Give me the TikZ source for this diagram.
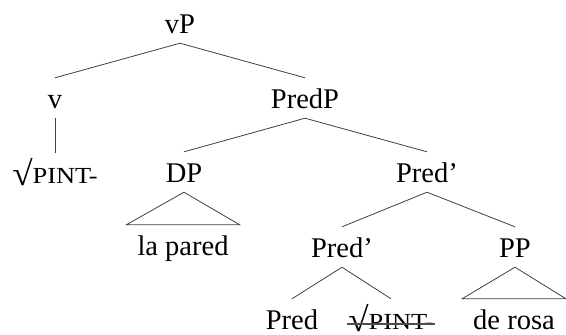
\documentclass[tikz,border=0pt]{standalone}
\usepackage{fontspec}
\setmainfont{Liberation Serif}
\newcommand{\rootpint}{\raisebox{-2pt}{\scalebox{1.3}[1.2]{√}}\scalebox{1.15}[1]{\fontsize{23}{24}\selectfont PINT-}}
\begin{document}
\begin{tikzpicture}[x=1pt,y=-1pt,
  lab/.style={anchor=base,font=\fontsize{28.5}{30}\selectfont,text height=21pt,text depth=1pt,inner ysep=9pt,inner xsep=1pt},
  leaf/.style={lab,inner xsep=11pt},
  edge/.style={line width=0.8pt,draw=black!75},
  strike/.style={line width=1.1pt,draw=black!70}]
\useasboundingbox (0,0) rectangle (566,335);
\node[lab] (vP) at (180,33) {vP};
\node[lab] (v) at (55,108) {v};
\node[lab] (PredP) at (305,108) {PredP};
\node[lab] (root1) at (55,183) {\rootpint};
\node[lab] (DP) at (184,182) {DP};
\node[lab] (PredB1) at (427,182) {Pred’};
\node[leaf] (lapared) at (183,255) {la pared};
\node[lab] (PredB2) at (342,257) {Pred’};
\node[lab] (PP) at (515,257) {PP};
\node[lab] (Pred) at (292,329) {Pred};
\node[lab] (root2) at (391,329) {\rootpint};
\node[leaf] (derosa) at (514,329) {de rosa};
\draw[edge] (vP.south) -- (v.north);
\draw[edge] (vP.south) -- (PredP.north);
\draw[edge] (v.south) -- (root1.north);
\draw[edge] (PredP.south) -- (DP.north);
\draw[edge] (PredP.south) -- (PredB1.north);
\draw[edge] (DP.south) -- (lapared.north west) -- (lapared.north east) -- cycle;
\draw[edge] (PredB1.south) -- (PredB2.north);
\draw[edge] (PredB1.south) -- (PP.north);
\draw[edge] (PredB2.south) -- (Pred.north);
\draw[edge] (PredB2.south) -- (root2.north);
\draw[edge] (PP.south) -- (derosa.north west) -- (derosa.north east) -- cycle;
\draw[strike] ([yshift=5pt]root2.base west) -- ([yshift=5pt]root2.base east);
\end{tikzpicture}
\end{document}
